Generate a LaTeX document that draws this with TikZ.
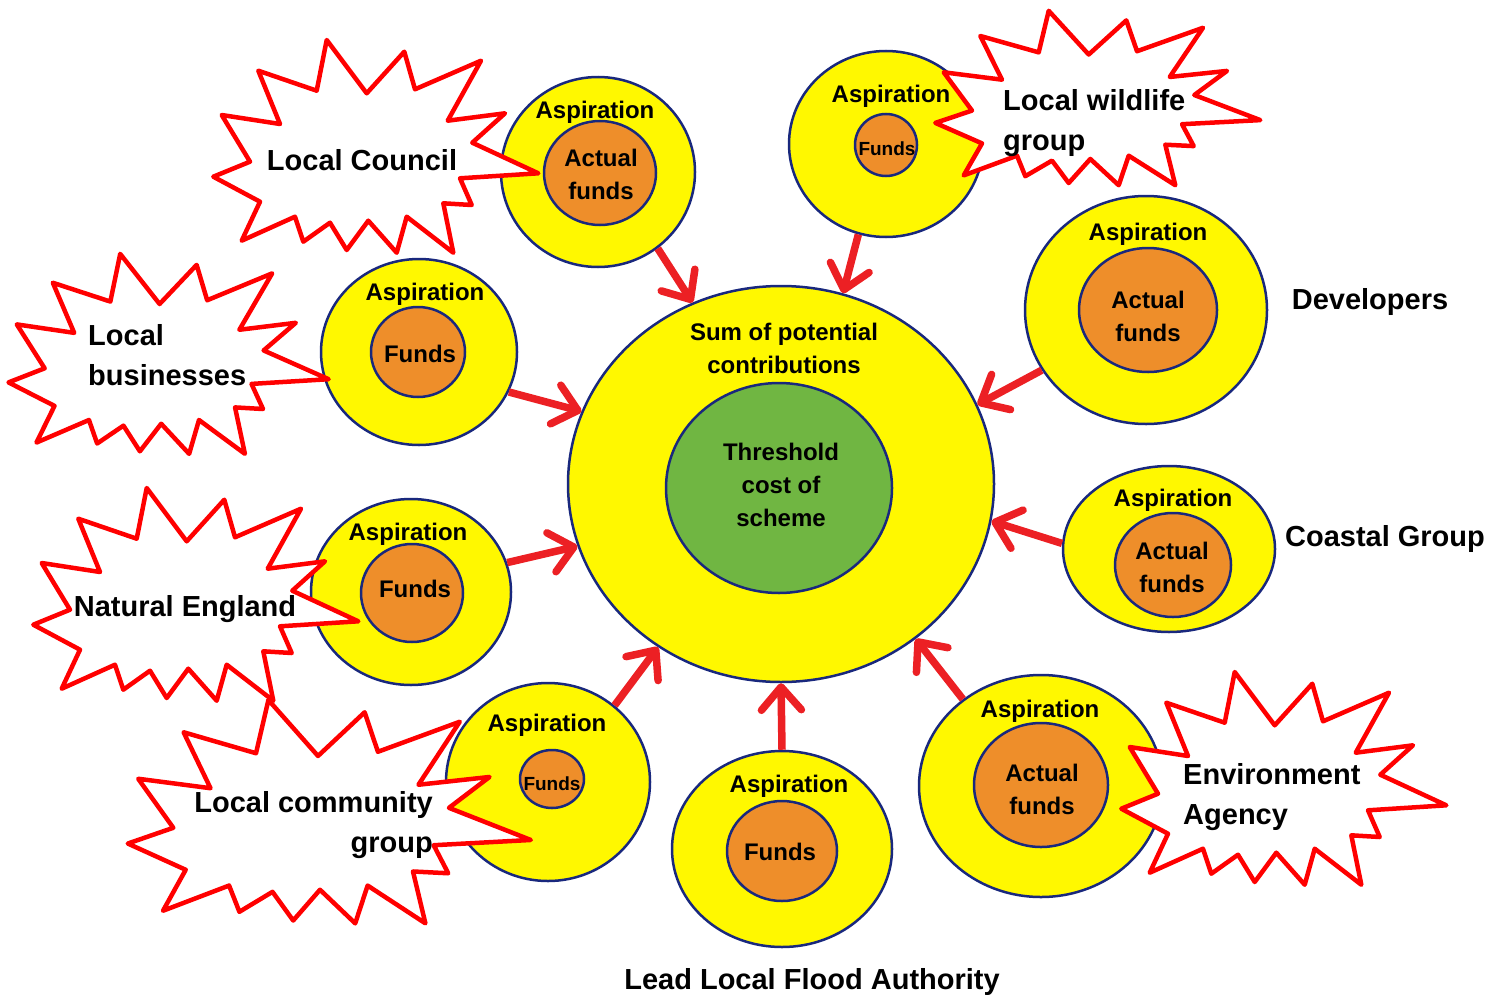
\documentclass[tikz,border=0pt]{standalone}
\usepackage{fontspec}
\setmainfont{Liberation Sans}
\usetikzlibrary{arrows.meta,shapes.geometric,positioning}
\definecolor{potyellow}{RGB}{255,248,0}
\definecolor{fundorange}{RGB}{238,142,42}
\definecolor{costgreen}{RGB}{112,182,66}
\definecolor{rim}{RGB}{25,40,125}
\definecolor{arrred}{RGB}{236,32,36}
\definecolor{burstred}{RGB}{255,0,0}
\tikzset{>=latex}
\tikzset{
  pot/.style={ellipse,draw=rim,line width=2.5pt,fill=potyellow,inner sep=0pt},
  fund/.style={ellipse,draw=rim,line width=2.5pt,fill=fundorange,inner sep=0pt},
  thresh/.style={ellipse,draw=rim,line width=2.5pt,fill=costgreen,inner sep=0pt},
  arr/.style={draw=arrred,line width=7.5pt,-{Straight Barb[length=23pt,width=40pt,round]}},
  burst/.style={draw=burstred,fill=white,line width=4.5pt,line join=round},
  txt/.style={font=\fontsize{24}{33}\selectfont\bfseries,align=center,inner sep=0pt},
  small/.style={font=\fontsize{19}{22}\selectfont\bfseries,inner sep=0pt},
  lbl/.style={font=\fontsize{29}{40}\selectfont\bfseries,inner sep=0pt}
}
% one explosion outline, placed by shift and scale
\newcommand{\burst}[1]{\draw[burst,#1] (326.7,40) -- (366.7,93.3) -- (404.3,51.7) -- (415,89.3)
  -- (481,60.7) -- (447.7,120.7) -- (505,113.3) -- (472.3,142.7) -- (538.3,173.3)
  -- (460,178.3) -- (471.7,205) -- (443.3,203.3) -- (453.3,252.7) -- (406.7,216.7)
  -- (396.7,252.7) -- (368.3,220.7) -- (346.7,250) -- (330,222.7) -- (303.3,241.7)
  -- (295,216.7) -- (241.7,240.7) -- (260,201.7) -- (213.3,176.7) -- (250,161.7)
  -- (221.7,115) -- (280,124) -- (258.3,70.7) -- (316.7,90.7) -- cycle;}

\begin{document}
\begin{tikzpicture}[x=1pt,y=-1pt]
  \useasboundingbox (0,0) rectangle (1495,998);

  % Circles
  \node[pot,minimum width=426pt,minimum height=396pt] (sum) at (781,484) {};
  \node[thresh,minimum width=226pt,minimum height=210pt] (cost) at (779,488) {};
  \node[pot,minimum width=194pt,minimum height=190pt] (council) at (598,172) {};
  \node[fund,minimum width=112pt,minimum height=104pt] (councilf) at (600,173) {};
  \node[pot,minimum width=194pt,minimum height=186pt] (wildlife) at (886,144) {};
  \node[fund,minimum width=62pt,minimum height=62pt] (wildlifef) at (886,145) {};
  \node[pot,minimum width=242pt,minimum height=228pt] (devel) at (1146,310) {};
  \node[fund,minimum width=138pt,minimum height=124pt] (develf) at (1148,310) {};
  \node[pot,minimum width=196pt,minimum height=186pt] (business) at (419,352) {};
  \node[fund,minimum width=94pt,minimum height=90pt] (businessf) at (418,352) {};
  \node[pot,minimum width=200pt,minimum height=186pt] (natural) at (411,592) {};
  \node[fund,minimum width=102pt,minimum height=98pt] (naturalf) at (412,593) {};
  \node[pot,minimum width=212pt,minimum height=166pt] (coastal) at (1169,549) {};
  \node[fund,minimum width=116pt,minimum height=104pt] (coastalf) at (1173,565) {};
  \node[pot,minimum width=204pt,minimum height=198pt] (community) at (548,782) {};
  \node[fund,minimum width=64pt,minimum height=58pt] (communityf) at (552,779) {};
  \node[pot,minimum width=220pt,minimum height=196pt] (llfa) at (782,849) {};
  \node[fund,minimum width=110pt,minimum height=100pt] (llfaf) at (782,851) {};
  \node[pot,minimum width=244pt,minimum height=222pt] (agency) at (1041,786) {};
  \node[fund,minimum width=134pt,minimum height=124pt] (agencyf) at (1041,785) {};

  % Arrows
  \draw[arr] (council.-52) -- (sum.116);
  \draw[arr] (wildlife.-107) -- (sum.72);
  \draw[arr] (devel.-150) -- (sum.22);
  \draw[arr] (business.-24) -- (sum.160);
  \draw[arr] (natural.17) -- (sum.197);
  \draw[arr] (coastal.177) -- (sum.-10);
  \draw[arr] (community.49) -- (sum.233);
  \draw[arr] (llfa.90) -- (sum.-90);
  \draw[arr] (agency.132) -- (sum.-49);

  % Explosions
  \burst{}
  \burst{shift={(722,-22)},yscale=0.82}
  \burst{shift={(-201.6,216.3)},xscale=0.985,yscale=0.94}
  \burst{shift={(-180,448)}}
  \burst{shift={(-136.7,658)},xscale=1.24,yscale=1.05}
  \burst{shift={(908,632)}}

  % Texts
  \node[txt] (sumt) at (784,348) {Sum of potential\\contributions};
  \node[txt] (costt) at (781,485) {Threshold\\cost of\\scheme};
  \node[txt] (councila) at (595,112) {Aspiration};
  \node[txt] (councilt) at (601,174) {Actual\\funds};
  \node[txt] (wildlifea) at (891,96) {Aspiration};
  \node[small] (wildlifet) at (887,149) {Funds};
  \node[txt] (devela) at (1148,234) {Aspiration};
  \node[txt] (develt) at (1148,316) {Actual\\funds};
  \node[txt] (businessa) at (425,294) {Aspiration};
  \node[txt] (businesst) at (420,354) {Funds};
  \node[txt] (naturala) at (408,534) {Aspiration};
  \node[txt] (naturalt) at (415,589) {Funds};
  \node[txt] (coastala) at (1173,500) {Aspiration};
  \node[txt] (coastalt) at (1172,567) {Actual\\funds};
  \node[txt] (communitya) at (547,725) {Aspiration};
  \node[small] (communityt) at (552,784) {Funds};
  \node[txt] (llfaa) at (789,786) {Aspiration};
  \node[txt] (llfat) at (780,852) {Funds};
  \node[txt] (agencya) at (1040,711) {Aspiration};
  \node[txt] (agencyt) at (1042,789) {Actual\\funds};

  % Labels
  \node[lbl] (councill) at (362,160) {Local Council};
  \node[lbl,align=left,anchor=west] (wildlifel) at (1003,123) {Local wildlife\\group};
  \node[lbl,align=left,anchor=west] (businessl) at (88,355) {Local\\businesses};
  \node[lbl] (naturall) at (185,609) {Natural England};
  \node[lbl,align=right,anchor=east] (communityl) at (433,825) {Local community\\group};
  \node[lbl,align=left,anchor=west] (agencyl) at (1183,797) {Environment\\Agency};
  \node[lbl] (develll) at (1370,302) {Developers};
  \node[lbl] (coastall) at (1385,539) {Coastal Group};
  \node[lbl] (llfal) at (812,982) {Lead Local Flood Authority};
\end{tikzpicture}
\end{document}
